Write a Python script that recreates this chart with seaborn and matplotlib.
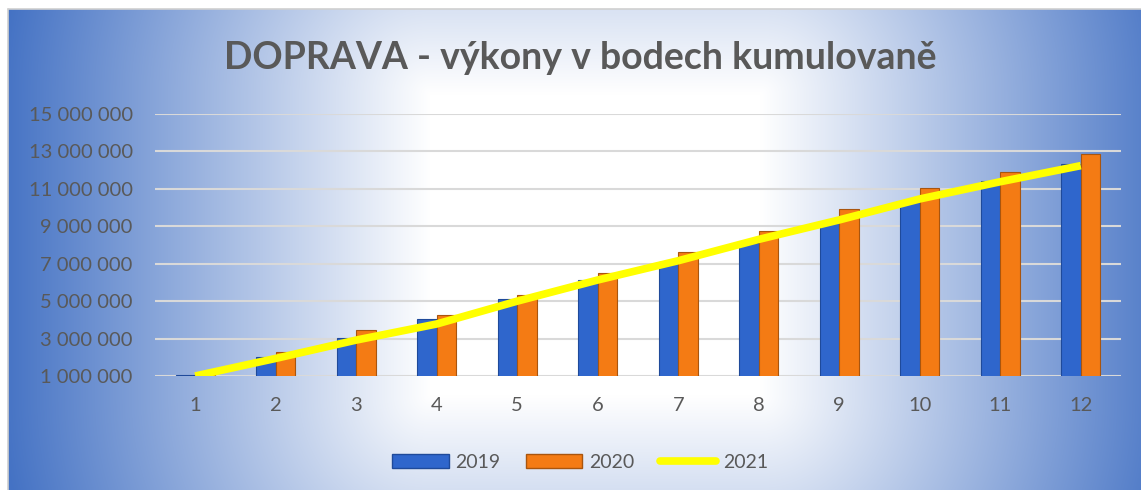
import numpy as np
import pandas as pd
import matplotlib
matplotlib.use("Agg")
import matplotlib.pyplot as plt
import seaborn as sns
from matplotlib.patches import Patch
from matplotlib.lines import Line2D

# ---- data ----
months = ["1", "2", "3", "4", "5", "6", "7", "8", "9", "10", "11", "12"]
v2019 = [1080000, 2030000, 3050000, 4050000, 5110000, 6130000, 7110000, 8090000, 9150000, 10320000, 11420000, 12330000]
v2020 = [1120000, 2300000, 3460000, 4260000, 5330000, 6490000, 7640000, 8750000, 9930000, 11030000, 11920000, 12870000]
v2021 = [1000000, 1940000, 2920000, 3780000, 5000000, 6130000, 7160000, 8300000, 9340000, 10460000, 11380000, 12240000]
series_names = ["2019", "2020", "2021"]
yticks = [1000000, 3000000, 5000000, 7000000, 9000000, 11000000, 13000000, 15000000]
title = "DOPRAVA - výkony v bodech kumulovaně"

sns.set_theme(style="white")
plt.rcParams["font.family"] = ["Lato", "DejaVu Sans"]

W, H = 1141, 490
fig = plt.figure(figsize=(W / 100, H / 100), dpi=100)
fig.patch.set_facecolor("white")

# ---- gradient background ----
x0, y0 = 8, 9
bg = fig.add_axes([x0 / W, 0, 1 - x0 / W, 1 - y0 / H])
gw, gh = W - x0, H - y0
xx, yy = np.meshgrid(np.arange(gw) + x0, np.arange(gh) + y0)
hx = np.clip(np.abs(xx - 595) - 165, 0, None) / 430
vy = np.clip(np.abs(yy - 245) - 150, 0, None) / 420
t = np.clip(np.sqrt(hx ** 2 + vy ** 2), 0, 1)
blue = np.array([0x44, 0x72, 0xC4]) / 255
white = np.array([1.0, 1.0, 1.0])
img = white[None, None, :] * (1 - t[..., None]) + blue[None, None, :] * t[..., None]
bg.imshow(img, aspect="auto", interpolation="bilinear")
bg.set_axis_off()
# thin frame edges
fig.add_artist(Line2D([x0 / W, x0 / W], [0, 1 - y0 / H], color="#D0D0D0", lw=1.2))
fig.add_artist(Line2D([x0 / W, 1], [1 - y0 / H, 1 - y0 / H], color="#D0D0D0", lw=1.2))

# ---- main axes ----
ax = fig.add_axes([155 / W, 1 - 376 / H, (1121 - 155) / W, (376 - 114) / H])
ax.set_facecolor("none")

df = pd.DataFrame({
    "month": months * 2,
    "year": [series_names[0]] * 12 + [series_names[1]] * 12,
    "value": v2019 + v2020,
})
pal = {"2019": "#2F66CC", "2020": "#F47B14"}
sns.barplot(data=df, x="month", y="value", hue="year", order=months,
            hue_order=series_names[:2], palette=pal, width=0.48, gap=0,
            ax=ax, legend=False, saturation=1, zorder=3)
edge = {0: "#1F4A9A", 1: "#A9550E"}
for i, cont in enumerate(ax.containers):
    for b in cont:
        b.set_edgecolor(edge[i])
        b.set_linewidth(0.8)

sns.lineplot(x=np.arange(len(months)), y=v2021, ax=ax, color="#FFFF00",
             linewidth=5.5, zorder=5, solid_capstyle="butt")

ax.set_ylim(1000000, 15000000)
ax.set_xlim(-0.5, 11.5)
ax.set_yticks(yticks)
ax.set_yticklabels([f"{v:,}".replace(",", " ") for v in yticks])
ax.grid(axis="y", color="#D9D9D9", linewidth=1.5, zorder=0)
ax.set_axisbelow(True)
for s in ax.spines.values():
    s.set_visible(False)
ax.tick_params(axis="both", length=0, labelsize=14.5, labelcolor="#595959")
ax.tick_params(axis="y", pad=16)
ax.tick_params(axis="x", pad=15)
ax.set_xlabel("")
ax.set_ylabel("")

fig.text(580 / W, 1 - 58 / H, title, ha="center", va="center",
         fontsize=27, fontweight="bold", color="#595959")

handles = [Patch(facecolor=pal["2019"], edgecolor=edge[0]),
           Patch(facecolor=pal["2020"], edgecolor=edge[1]),
           Line2D([0], [0], color="#FFFF00", lw=5.5)]
fig.legend(handles, series_names, loc="center", bbox_to_anchor=(580 / W, 1 - 462 / H),
           ncol=3, frameon=False, fontsize=14, handlelength=2.9, handleheight=0.7,
           handletextpad=0.35, columnspacing=1.3, labelcolor="#595959")

fig.savefig("out.png", dpi=100)
